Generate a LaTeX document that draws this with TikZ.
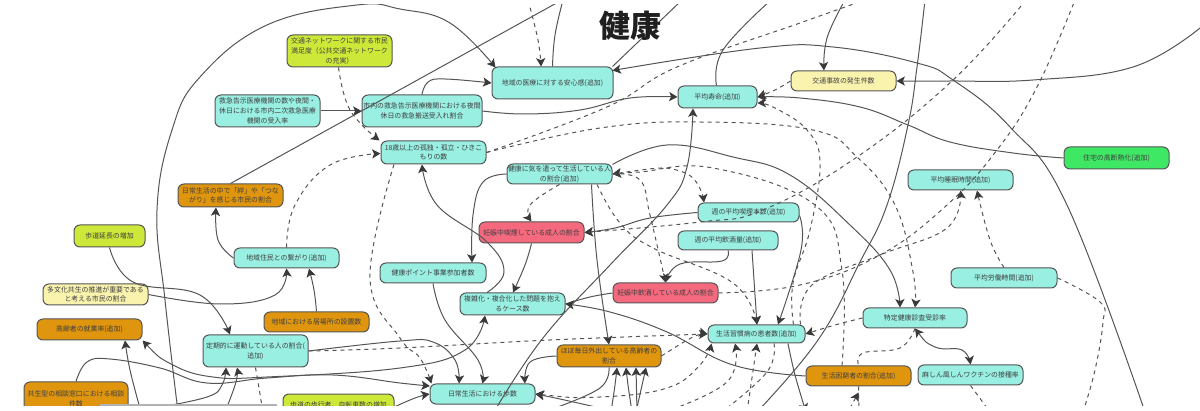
\documentclass[tikz,border=0pt]{standalone}
\usepackage{fontspec}
\setmainfont{Noto Sans CJK JP}
\usetikzlibrary{arrows.meta}
\definecolor{teal1}{HTML}{98EFE2}
\definecolor{lime1}{HTML}{CDE838}
\definecolor{yell1}{HTML}{F9F3AE}
\definecolor{oran1}{HTML}{DF950E}
\definecolor{red1}{HTML}{F4697E}
\definecolor{grn1}{HTML}{3FE864}
\definecolor{edge1}{HTML}{555555}
\definecolor{tip1}{HTML}{3A3A3A}
\definecolor{txt1}{HTML}{3F3F3F}
\tikzset{
  boxnode/.style={draw=edge1,line width=.5pt,rounded corners=3pt,inner sep=0pt,align=center,text=txt1,
    font=\fontsize{3.45}{4.85}\selectfont},
  ln/.style={draw=edge1,line width=.5pt},
  dl/.style={draw=edge1,line width=.5pt,dash pattern=on 2pt off 2pt},
  ar/.style={-{Stealth[length=4.2pt,width=4.6pt,inset=1pt,color=tip1]}},
  ra/.style={{Stealth[length=4.2pt,width=4.6pt,inset=1pt,color=tip1]}-},
  ab/.style={{Stealth[length=4.2pt,width=4.6pt,inset=1pt,color=tip1]}-{Stealth[length=4.2pt,width=4.6pt,inset=1pt,color=tip1]}},
  titlenode/.style={font=\fontsize{15.5}{16}\bfseries\selectfont,text=black!88,inner sep=0pt}
}
\newcommand\bx[7]{\node[boxnode,fill=#6,minimum width={(#4-#2)*.5pt},minimum height={(#5-#3)*.5pt}] (#1) at ({(#2+#4)/2},{(#3+#5)/2}) {#7};}
\newcommand\cv[2]{\draw[#1] plot[smooth,tension=.7] coordinates {#2};}
\begin{document}
\begin{tikzpicture}[x=.5pt,y=-.5pt]
\useasboundingbox (0,0) rectangle (1200,411);
\begin{scope}
\clip (0,5) rectangle (1200,405);
\bx{jn}{287}{35}{392}{67}{lime1}{交通ネットワークに関する市民\\満足度（公共交通ネットワーク\\の充実）}
\bx{kq}{215}{95}{320}{127}{teal1}{救急告示医療機関の数や夜間・\\休日における市内二次救急医療\\機関の受入率}
\bx{ky}{362}{95}{482}{127}{teal1}{市内の救急告示医療機関における夜間\\休日の救急搬送受入れ割合}
\bx{an}{492}{67}{613}{99}{teal1}{地域の医療に対する安心感(追加)}
\bx{hj}{678}{86}{757}{108}{teal1}{平均寿命(追加)}
\bx{jk}{791}{71}{896}{91}{yell1}{交通事故の発生件数}
\bx{jt}{1064}{147}{1169}{169}{grn1}{住宅の高断熱化(追加)}
\bx{sm}{908}{170}{1013}{190}{teal1}{平均睡眠時間(追加)}
\bx{ko}{381}{141}{486}{164}{teal1}{18歳以上の孤独・孤立・ひきこ\\もりの数}
\bx{kk}{507}{164}{612}{184}{teal1}{健康に気を遣って生活している人\\の割合(追加)}
\bx{ks}{698}{203}{799}{222}{teal1}{週の平均喫煙本数(追加)}
\bx{in}{678}{231}{778}{250}{teal1}{週の平均飲酒量(追加)}
\bx{nk}{479}{222}{584}{243}{red1}{妊娠中喫煙している成人の割合}
\bx{ni}{613}{283}{718}{303}{red1}{妊娠中飲酒している成人の割合}
\bx{kp}{380}{263}{486}{283}{teal1}{健康ポイント事業参加者数}
\bx{fk}{460}{293}{565}{315}{teal1}{複雑化・複合化した問題を抱え\\るケース数}
\bx{sk}{708}{325}{805}{343}{teal1}{生活習慣病の患者数(追加)}
\bx{tk}{863}{308}{967}{328}{teal1}{特定健康診査受診率}
\bx{rd}{951}{268}{1057}{288}{teal1}{平均労働時間(追加)}
\bx{ms}{918}{365}{1023}{385}{teal1}{麻しん風しんワクチンの接種率}
\bx{kn}{806}{366}{911}{386}{oran1}{生活困窮者の割合(追加)}
\bx{gs}{557}{345}{661}{367}{oran1}{ほぼ毎日外出している高齢者の\\割合}
\bx{hs}{430}{384}{535}{404}{teal1}{日常生活における歩数}
\bx{tu}{203}{335}{308}{367}{teal1}{定期的に運動している人の割合(\\追加)}
\bx{ib}{264}{312}{369}{332}{oran1}{地域における居場所の設置数}
\bx{ts}{234}{248}{339}{268}{teal1}{地域住民との繋がり(追加)}
\bx{kz}{178}{184}{283}{207}{oran1}{日常生活の中で「絆」や「つな\\がり」を感じる市民の割合}
\bx{ho}{74}{225}{145}{247}{lime1}{歩道延長の増加}
\bx{tb}{43}{284}{148}{305}{yell1}{多文化共生の推進が重要である\\と考える市民の割合}
\bx{sg}{37}{319}{142}{340}{oran1}{高齢者の就業率(追加)}
\bx{kd}{24}{382}{128}{416}{oran1}{共生型の相談窓口における相談\\件数}
\bx{hb}{283}{394}{394}{424}{lime1}{歩道の歩行者、自転車数の増加\\\ }
% free ends
\coordinate (t1) at (562,0);\coordinate (t2) at (528,0);\coordinate (t3) at (563,0);
\coordinate (t4) at (682,0);\coordinate (t5) at (771,0);\coordinate (t6) at (865,0);
\coordinate (t7) at (845,0);\coordinate (t8) at (925,0);\coordinate (t9) at (1026,0);
\coordinate (t10) at (1075,0);\coordinate (r1) at (1200,28);
\coordinate (b1) at (178,412);\coordinate (b2) at (1145,412);\coordinate (b3) at (494,412);
\coordinate (b4) at (757,412);\coordinate (b5) at (141,412);\coordinate (b6) at (225,412);
\coordinate (b7) at (155,408);\coordinate (b8) at (263,412);\coordinate (b9) at (600,408);
\coordinate (b10) at (611,412);\coordinate (b11) at (632,412);\coordinate (b12) at (637,412);
\coordinate (b13) at (636,412);\coordinate (b14) at (555,408);\coordinate (b15) at (665,412);
\coordinate (b16) at (747,412);\coordinate (b17) at (722,412);\coordinate (b18) at (806,412);
\coordinate (b19) at (859,412);\coordinate (b20) at (848,412);\coordinate (b21) at (990,412);
\coordinate (b22) at (1083,412);\coordinate (b23) at (392,408);
% solid
\cv{ln,ar}{(b1) (165,300) (157,210) (172,130) (200,77) (267,25) (357,5) (400,9) (450,23) ([xshift=2pt,yshift=-.5pt]an.north west)}
\draw[ln] (kz.north) -- (t1);
\draw[ln,ar] (kq.east) -- (ky.west);
\cv{ln,ar}{(ky.north) (428,82) (445,79) ([yshift=0pt]an.west)}
\cv{ln,ar}{(ky.east) (525,114) (580,110) (630,98) (hj.west)}
\cv{ln}{(an.north) (555,35) (t3)}
\draw[ln] ([xshift=-.5pt]an.north east) -- (t4);
\cv{ln}{([xshift=-.5pt]hj.north) (723,50) (t5)}
\cv{ln,ar}{(b3) (543,338) (610,265) (667,205) (687,167) ([xshift=-12.25pt]hj.south)}
\cv{ln,ar}{(jt.west) (1013,153) (950,142) (908,125) (860,107) (800,98) (hj.east)}
\cv{ln,ar}{(t7) (827,38) ([xshift=-9.75pt]jk.north)}
\cv{ln,ar}{(r1) (1133,67) (1033,80) (950,81) (jk.east)}
\cv{ln,ar}{(b2) (1067,205) (1010,127) (953,80) (917,63) (833,47) (760,48) ([xshift=-.5pt,yshift=-2pt]an.north east)}
\cv{ln}{(t8) (917,67) (908,125) (887,205) (860,262) (818,340) (b4)}
\cv{ln,ar}{([yshift=-.5pt]kk.north east) (667,145) (733,157) (790,175) (850,225) (890,270) ([xshift=-7.5pt]tk.north)}
\cv{ln,ar}{(kk.west) (483,182) (473,215) ([xshift=19.5pt]kp.north)}
\cv{ln,ar}{([xshift=16pt]kk.south) (597,260) (gs.north)}
\cv{ln,ar}{([yshift=-1.5pt]ks.east) (801,250) ([xshift=10.75pt]sk.north)}
\draw[ln,ar] ([xshift=12pt]in.south) -- ([xshift=.25pt]sk.north);
\cv{ln,ar}{(in.south) (722,261) (680,264) (ni.north)}
\cv{ln,ar}{(ks.west) (650,218) (615,228) (nk.east)}
\cv{ln,ar}{(nk.south) (525,265) ([xshift=.25pt]fk.north)}
\cv{ln,ar}{([xshift=-12.75pt]fk.north) (504,272) (487,242) (437,205) ([xshift=-5.75pt]ko.south)}
\cv{ln}{(ni.west) (590,297) (fk.east)}
\cv{ln,ar}{(kn.west) (733,365) (667,332) (610,312) (fk.east)}
\cv{ln,ar}{(kp.south) (445,320) (478,360) (hs.north)}
\cv{ln,ab}{(sg.south east) (173,365) (213,377) (267,377) (400,368) (465,350) ([xshift=-13.75pt]fk.south)}
\cv{ln,ar}{(tu.east) (400,341) (433,342) (455,360) ([xshift=-11.75pt]hs.north)}
\cv{ln,ar}{(kd.north) (87,362) (110,359) (160,368) (207,383) (267,378) (333,375) (400,383) ([yshift=4pt,xshift=.2pt]hs.west)}
\cv{ln,ar}{(b23) (415,398) (hs.west)}
\cv{ln,ar}{(ho.south) (133,282) (200,295) ([xshift=-12.75pt]tu.north)}
\cv{ln,ar}{(tb.east) (220,304) (275,295) (ts.south)}
\cv{ln,ar}{(ib.north) (314,290) ([xshift=11.25pt]ts.south)}
\cv{ln,ar}{(ts.west) (218,240) ([xshift=-7.25pt]kz.south)}
\cv{ln,ar}{(b5) (130,370) ([xshift=17.75pt]sg.south)}
\cv{ln,ar}{(b6) (236,382) ([xshift=-9.25pt]tu.south)}
\cv{ln,ar}{(b7) (207,397) (222,385) ([xshift=-14.75pt]tu.south)}
\cv{ln,ar}{(gs.west) (530,362) ([xshift=21.25pt]hs.north)}
\cv{ln}{(gs.south) (600,388) (b14)}
\cv{ln,ar}{(b10) (615,385) ([xshift=4pt]gs.south)}
\cv{ln,ar}{(b11) (628,385) ([xshift=8.5pt]gs.south)}
\cv{ln,ar}{(b12) ([xshift=13.5pt]gs.south)}
\cv{ln,ar}{(b13) ([xshift=18.5pt]gs.south)}
\cv{ln,ar}{(b9) (560,399) (hs.east)}
\cv{ln,ar}{([xshift=15.75pt]sk.south) (795,375) (b18)}
\cv{ln,ab}{(tk.south) (935,347) (962,350) (ms.north)}
% dashed
\cv{dl,ar}{([xshift=-.5pt]jn.south) (350,110) ([xshift=-.5pt,yshift=0pt]ko.north west)}
\cv{dl,ar}{(ts.north) (295,205) (330,165) ([yshift=-.5pt]ko.west)}
\cv{dl,ar}{(t2) (538,40) ([xshift=-5.75pt]an.north)}
\cv{dl,ar}{(jk.west) (775,90) ([yshift=0pt]hj.east)}
\cv{dl,ar}{([xshift=-6pt]sk.north east) (793,283) (810,230) (820,163) (807,130) (775,108) ([yshift=-3pt]hj.east)}
\cv{dl,ar}{(ko.east) (600,128) (700,122) (813,130) (857,157) (895,205) (913,272) (tk.north)}
\cv{dl}{(ko.east) (607,107) (677,67) (800,23) (t6)}
\cv{dl,ar}{(t9) (953,80) (857,157) (763,210) (700,222) (nk.east)}
\cv{dl}{(ni.east) (800,285) (880,255) (947,205) (997,150) (1037,87) (t10)}
\cv{dl,ar}{([xshift=-2.5pt]sk.north east) (812,285) (880,255) (947,228) (sm.south)}
\cv{dl,ar}{(rd.north) (990,240) ([xshift=8.25pt]sm.south)}
\cv{dl,ab}{(kk.east) (683,172) ([xshift=-22.25pt]ks.north)}
\cv{dl,ar}{([xshift=-8.25pt]kn.north) (842,270) (815,205) (713,168) (640,172) (kk.east)}
\cv{dl,ar}{(kk.east) (640,180) (650,215) (ni.north)}
\cv{dl,ar}{([xshift=18.75pt]kk.south) (620,223) (653,248) (733,283) ([xshift=.25pt]sk.north)}
\cv{dl,ar}{(kk.south) (530,205) (nk.north)}
\cv{dl,ar}{([xshift=-19.75pt]ko.south) (370,278) (400,338) (420,358) ([xshift=1pt]hs.north west)}
\cv{dl,ar}{(tu.east) (400,348) (550,340) (sk.west)}
\cv{dl,ar}{(gs.east) (693,337) (sk.west)}
\cv{dl,ab}{(hs.east) (600,397) (667,388) (700,365) ([xshift=2pt]sk.south west)}
\cv{dl,ar}{(b15) (727,382) ([xshift=-10.75pt]sk.south)}
\cv{dl,ar}{(b16) ([xshift=.25pt]sk.south)}
\cv{dl}{([xshift=8.75pt]sk.south) (767,372) (b17)}
\cv{dl,ar}{(tk.west) (835,325) (sk.east)}
\cv{dl}{(tk.south) (900,348) (863,353) (kn.north)}
\draw[dl] (kn.south) -- (b19);
\draw[dl,ra] ([yshift=-3pt]kn.south) -- (b20);
\cv{dl}{(ms.south) (b21)}
\cv{dl}{(rd.east) (1100,302) (1103,322) (1095,370) (b22)}
\draw[dl] (tu.south) -- (b8);
\end{scope}
\fill[black!30] (100,404.4) rectangle (277,405.6);
\node[titlenode] (ti) at (630,26) {健康};
\end{tikzpicture}
\end{document}
